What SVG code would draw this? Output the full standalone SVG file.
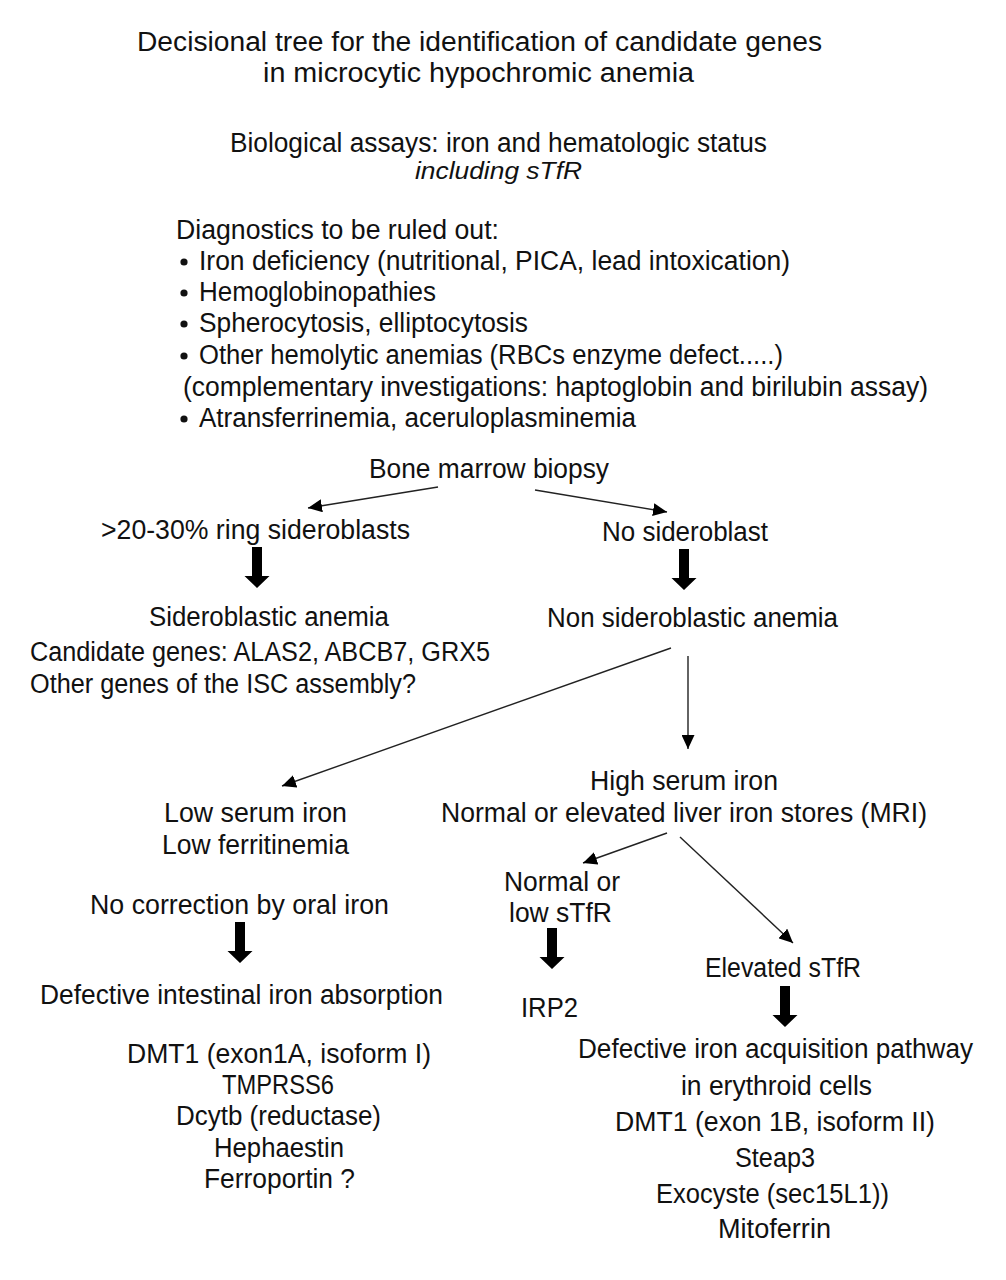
<svg xmlns="http://www.w3.org/2000/svg" width="1006" height="1280" viewBox="0 0 1006 1280">
<style>
text{font-family:"Liberation Sans",Arial,sans-serif;font-size:27px;fill:#111;}
.it{font-style:italic;font-size:24px;}
.ln{stroke:#222;stroke-width:1.4;fill:none;marker-end:url(#ah);}
.thick{fill:#000;}
</style>
<defs>
<marker id="ah" markerUnits="userSpaceOnUse" markerWidth="15" markerHeight="13" refX="14" refY="6.5" orient="auto">
<path d="M0,0 L14,6.5 L0,13 z" fill="#000"/>
</marker>
<path id="thk" d="M-5,0 H5 V29 H12.5 L0,41 L-12.5,29 H-5 Z"/>
</defs>
<rect width="1006" height="1280" fill="#fff"/>

<g id="title">
<text x="137" y="51" textLength="685" lengthAdjust="spacingAndGlyphs">Decisional tree for the identification of candidate genes</text>
<text x="263" y="82" textLength="431" lengthAdjust="spacingAndGlyphs">in microcytic hypochromic anemia</text>
</g>
<g id="assays">
<text x="230" y="152" textLength="537" lengthAdjust="spacingAndGlyphs">Biological assays: iron and hematologic status</text>
<text class="it" x="415" y="179" textLength="167" lengthAdjust="spacingAndGlyphs">including sTfR</text>
</g>
<g id="diagnostics">
<text x="176" y="239" textLength="323" lengthAdjust="spacingAndGlyphs">Diagnostics to be ruled out:</text>
<circle cx="184" cy="262" r="3.6" fill="#111"/>
<text x="199" y="270" textLength="591" lengthAdjust="spacingAndGlyphs">Iron deficiency (nutritional, PICA, lead intoxication)</text>
<circle cx="184" cy="293" r="3.6" fill="#111"/>
<text x="199" y="301" textLength="237" lengthAdjust="spacingAndGlyphs">Hemoglobinopathies</text>
<circle cx="184" cy="324" r="3.6" fill="#111"/>
<text x="199" y="332" textLength="329" lengthAdjust="spacingAndGlyphs">Spherocytosis, elliptocytosis</text>
<circle cx="184" cy="356" r="3.6" fill="#111"/>
<text x="199" y="364" textLength="584" lengthAdjust="spacingAndGlyphs">Other hemolytic anemias (RBCs enzyme defect.....)</text>
<text x="183" y="396" textLength="745" lengthAdjust="spacingAndGlyphs">(complementary investigations: haptoglobin and birilubin assay)</text>
<circle cx="184" cy="419" r="3.6" fill="#111"/>
<text x="199" y="427" textLength="437" lengthAdjust="spacingAndGlyphs">Atransferrinemia, aceruloplasminemia</text>
</g>

<g id="bone-marrow"><text x="369" y="478" textLength="240" lengthAdjust="spacingAndGlyphs">Bone marrow biopsy</text></g>
<g id="ring-sideroblasts"><text x="101" y="539" textLength="309" lengthAdjust="spacingAndGlyphs">&gt;20-30% ring sideroblasts</text></g>
<g id="no-sideroblast"><text x="602" y="541" textLength="166" lengthAdjust="spacingAndGlyphs">No sideroblast</text></g>
<g id="sideroblastic">
<text x="149" y="626" textLength="240" lengthAdjust="spacingAndGlyphs">Sideroblastic anemia</text>
<text x="30" y="661" textLength="460" lengthAdjust="spacingAndGlyphs">Candidate genes: ALAS2, ABCB7, GRX5</text>
<text x="30" y="693" textLength="386" lengthAdjust="spacingAndGlyphs">Other genes of the ISC assembly?</text>
</g>
<g id="non-sideroblastic"><text x="547" y="627" textLength="291" lengthAdjust="spacingAndGlyphs">Non sideroblastic anemia</text></g>
<g id="high-serum">
<text x="590" y="790" textLength="188" lengthAdjust="spacingAndGlyphs">High serum iron</text>
<text x="441" y="822" textLength="486" lengthAdjust="spacingAndGlyphs">Normal or elevated liver iron stores (MRI)</text>
</g>
<g id="low-serum">
<text x="164" y="822" textLength="183" lengthAdjust="spacingAndGlyphs">Low serum iron</text>
<text x="162" y="854" textLength="187" lengthAdjust="spacingAndGlyphs">Low ferritinemia</text>
</g>
<g id="normal-low-stfr">
<text x="504" y="891" textLength="116" lengthAdjust="spacingAndGlyphs">Normal or</text>
<text x="509" y="922" textLength="103" lengthAdjust="spacingAndGlyphs">low sTfR</text>
</g>
<g id="irp2"><text x="521" y="1017" textLength="57" lengthAdjust="spacingAndGlyphs">IRP2</text></g>
<g id="elevated-stfr"><text x="705" y="977" textLength="156" lengthAdjust="spacingAndGlyphs">Elevated sTfR</text></g>
<g id="no-correction"><text x="90" y="914" textLength="299" lengthAdjust="spacingAndGlyphs">No correction by oral iron</text></g>
<g id="intestinal">
<text x="40" y="1004" textLength="403" lengthAdjust="spacingAndGlyphs">Defective intestinal iron absorption</text>
<text x="127" y="1063" textLength="304" lengthAdjust="spacingAndGlyphs">DMT1 (exon1A, isoform I)</text>
<text x="222" y="1094" textLength="112" lengthAdjust="spacingAndGlyphs">TMPRSS6</text>
<text x="176" y="1125" textLength="205" lengthAdjust="spacingAndGlyphs">Dcytb (reductase)</text>
<text x="214" y="1157" textLength="130" lengthAdjust="spacingAndGlyphs">Hephaestin</text>
<text x="204" y="1188" textLength="151" lengthAdjust="spacingAndGlyphs">Ferroportin ?</text>
</g>
<g id="erythroid">
<text x="578" y="1058" textLength="395" lengthAdjust="spacingAndGlyphs">Defective iron acquisition pathway</text>
<text x="681" y="1095" textLength="191" lengthAdjust="spacingAndGlyphs">in erythroid cells</text>
<text x="615" y="1131" textLength="320" lengthAdjust="spacingAndGlyphs">DMT1 (exon 1B, isoform II)</text>
<text x="735" y="1167" textLength="80" lengthAdjust="spacingAndGlyphs">Steap3</text>
<text x="656" y="1203" textLength="233" lengthAdjust="spacingAndGlyphs">Exocyste (sec15L1))</text>
<text x="718" y="1238" textLength="113" lengthAdjust="spacingAndGlyphs">Mitoferrin</text>
</g>

<g id="connectors">
<line class="ln" x1="438" y1="487" x2="308" y2="508"/>
<line class="ln" x1="535" y1="490" x2="667" y2="512"/>
<line class="ln" x1="671" y1="648" x2="282" y2="786"/>
<line class="ln" x1="688" y1="656" x2="688" y2="749"/>
<line class="ln" x1="667" y1="833" x2="583" y2="863"/>
<line class="ln" x1="680" y1="837" x2="793" y2="943"/>
<use href="#thk" class="thick" x="257" y="547"/>
<use href="#thk" class="thick" x="684" y="549"/>
<use href="#thk" class="thick" x="240" y="922"/>
<use href="#thk" class="thick" x="552" y="928"/>
<use href="#thk" class="thick" x="785" y="986"/>
</g>
</svg>
